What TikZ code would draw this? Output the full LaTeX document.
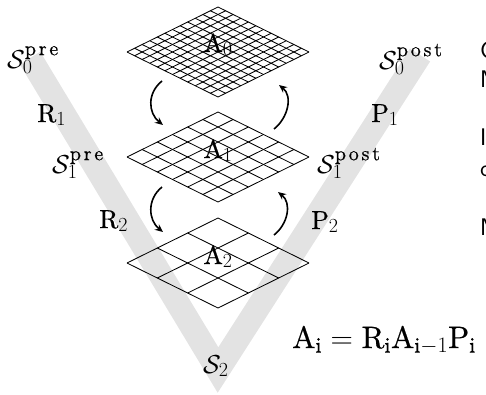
\documentclass[tikz,border=0pt]{standalone}
\usepackage{fix-cm}
\usepackage{fontspec}
\setmainfont{lmroman10-regular}[Extension=.otf, FakeBold=0.6]
\DeclareMathSizes{26}{26}{20}{14}
\DeclareMathSizes{31}{31}{22}{16}
\usetikzlibrary{arrows.meta}
\newcommand{\spre}{\mathrm{p\mkern2.5mu r\mkern2.5mu e}}
\newcommand{\spost}{\mathrm{p\mkern2.5mu o\mkern2.5mu s\mkern2.5mu t}}
\begin{document}
\begin{tikzpicture}[x=1pt,y=-1pt,
  band/.style={line width=24pt, black!11, line join=miter, line cap=butt},
  gridline/.style={line width=0.85pt, black},
  cyc/.style={line width=1.6pt, -{Stealth[length=8pt,width=7pt]}},
  lab/.style={inner sep=0pt, anchor=base west, font=\fontsize{26}{30}\selectfont},
  side/.style={inner sep=0pt, anchor=base west, font=\fontsize{24}{28}\selectfont\sffamily}]
\useasboundingbox (0,0) rectangle (486,394);
\clip (0,0) rectangle (486,394);
% V band
\coordinate (vL) at (30,58);
\coordinate (vB) at (218,370);
\coordinate (vR) at (420,55);
\draw[band] (vL) -- (vB) -- (vR);
% grids
\foreach \c/\n in {52/12,157/6,263/3}{
  \foreach \i in {0,...,\n}{
    \pgfmathsetmacro{\dx}{91*\i/\n}
    \pgfmathsetmacro{\dy}{45*\i/\n}
    \draw[gridline] (127+\dx,\c-\dy) -- ++(91,45);
    \draw[gridline] (127+\dx,\c+\dy) -- ++(91,-45);
  }
}
\node[lab, anchor=base] (A0) at (218,52) {$\mathrm{A}_0$};
\node[lab, anchor=base] (A1) at (218,158) {$\mathrm{A}_1$};
\node[lab, anchor=base] (A2) at (218,264) {$\mathrm{A}_2$};
% cycle arrows
\coordinate (r1a) at (162,81);  \coordinate (r1b) at (163,125);
\coordinate (r2a) at (162,187); \coordinate (r2b) at (163,232);
\coordinate (p1a) at (274,129); \coordinate (p1b) at (279,85);
\coordinate (p2a) at (274,235); \coordinate (p2b) at (278,192);
\draw[cyc] (r1a) .. controls +(-15,12) and +(-15,-12) .. (r1b);
\draw[cyc] (r2a) .. controls +(-15,12) and +(-15,-12) .. (r2b);
\draw[cyc] (p1a) .. controls +(14,-11) and +(14,11) .. (p1b);
\draw[cyc] (p2a) .. controls +(14,-11) and +(14,11) .. (p2b);
% labels
\node[lab] (S0pre) at (7,68) {$\mathcal{S}_0^{\spre}$};
\node[lab] (S1pre) at (52,173) {$\mathcal{S}_1^{\spre}$};
\node[lab] (S2) at (203,373) {$\mathcal{S}_2$};
\node[lab] (S1post) at (317,173) {$\mathcal{S}_1^{\spost}$};
\node[lab] (S0post) at (379,69) {$\mathcal{S}_0^{\spost}$};
\node[lab] (R1) at (37,122) {$\mathrm{R}_1$};
\node[lab] (R2) at (99,228) {$\mathrm{R}_2$};
\node[lab] (P1) at (371,122) {$\mathrm{P}_1$};
\node[lab] (P2) at (311,229) {$\mathrm{P}_2$};
\node[lab, font=\fontsize{31}{37}\selectfont] (eq) at (292,348) {$\mathrm{A}_{\mathrm{i}} = \mathrm{R}_{\mathrm{i}} \mathrm{A}_{\mathrm{i}-1} \mathrm{P}_{\mathrm{i}}$};
% clipped text at right edge
\node[side] (t1) at (480,58) {C};
\node[side] (t2) at (480,87) {N};
\node[side] (t3) at (480,145) {I};
\node[side] (t4) at (480,176) {c};
\node[side] (t5) at (480,235) {N};
\end{tikzpicture}
\end{document}
